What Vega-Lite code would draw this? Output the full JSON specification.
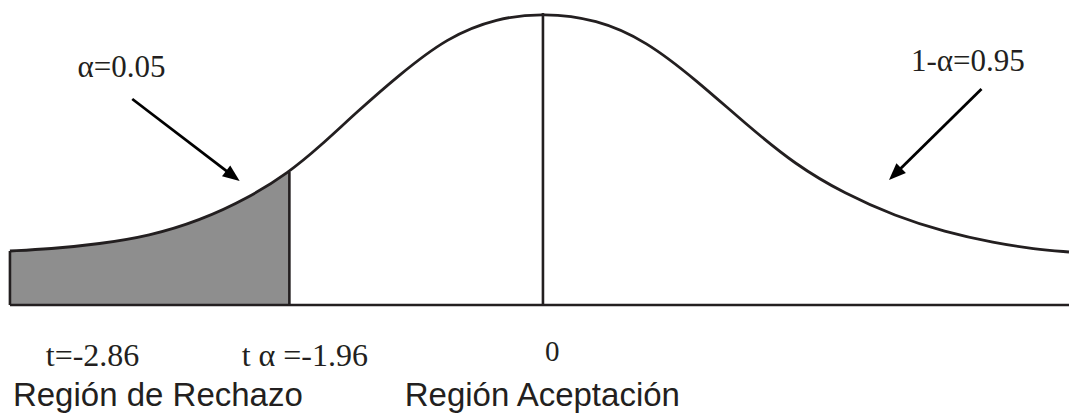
{
  "$schema": "https://vega.github.io/schema/vega-lite/v6.json",
  "width": 1075,
  "height": 417,
  "padding": 0,
  "autosize": {"type": "fit", "contains": "padding"},
  "background": "white",
  "config": {"view": {"stroke": null}},
  "datasets": {
    "curve": [
      {"x": -5.36, "y": 0.0740},
      {"x": -4.96, "y": 0.0767},
      {"x": -4.46, "y": 0.0836},
      {"x": -3.96, "y": 0.0945},
      {"x": -3.46, "y": 0.1151},
      {"x": -2.96, "y": 0.1466},
      {"x": -2.55, "y": 0.1822},
      {"x": -2.26, "y": 0.2151},
      {"x": -1.86, "y": 0.2658},
      {"x": -1.46, "y": 0.3137},
      {"x": -0.96, "y": 0.3671},
      {"x": -0.46, "y": 0.3932},
      {"x": 0.0, "y": 0.4},
      {"x": 0.54, "y": 0.3918},
      {"x": 1.04, "y": 0.3616},
      {"x": 1.54, "y": 0.3082},
      {"x": 2.04, "y": 0.2479},
      {"x": 2.54, "y": 0.1918},
      {"x": 3.04, "y": 0.1521},
      {"x": 3.54, "y": 0.1219},
      {"x": 4.04, "y": 0.1000},
      {"x": 4.54, "y": 0.0849},
      {"x": 4.94, "y": 0.0767},
      {"x": 5.29, "y": 0.0726}
    ],
    "rules": [
      {"x": -5.36, "x2": 5.29, "y": 0, "y2": 0},
      {"x": -5.36, "x2": -5.36, "y": 0, "y2": 0.074},
      {"x": -2.55, "x2": -2.55, "y": 0, "y2": 0.1822},
      {"x": 0, "x2": 0, "y": 0, "y2": 0.4}
    ],
    "arrows": [
      {"x": -4.13, "y": 0.2822, "hx": -3.118, "hy": 0.1768, "angle": 127.2},
      {"x": 4.41, "y": 0.2959, "hx": 3.541, "hy": 0.1793, "angle": 225.6}
    ],
    "alphaLabels": [
      {"x": -4.68, "y": 0.3123, "label": "α=0.05"},
      {"x": 3.7, "y": 0.3205, "label": "1-α=0.95"}
    ],
    "tLabels": [
      {"x": -5.0, "y": -0.0836, "label": "t=-2.86"},
      {"x": -3.03, "y": -0.0836, "label": "t α =-1.96"}
    ],
    "zeroLabel": [
      {"x": 0.02, "y": -0.0767, "label": "0"}
    ],
    "regionLabels": [
      {"x": -5.33, "y": -0.1384, "label": "Región de Rechazo"},
      {"x": -1.39, "y": -0.1384, "label": "Región Aceptación"}
    ]
  },
  "encoding": {
    "x": {"field": "x", "type": "quantitative", "axis": null, "scale": {"domain": [-5.46, 5.29], "nice": false, "zero": false}},
    "y": {"field": "y", "type": "quantitative", "axis": null, "scale": {"domain": [-0.1534, 0.4178], "nice": false, "zero": false}}
  },
  "layer": [
    {
      "data": {"name": "curve"},
      "transform": [{"filter": "datum.x <= -2.55"}],
      "mark": {"type": "area", "interpolate": "basis", "fill": "#8e8e8e", "fillOpacity": 1},
      "encoding": {"y2": {"datum": 0}}
    },
    {
      "data": {"name": "curve"},
      "mark": {"type": "line", "interpolate": "basis", "stroke": "#231f20", "strokeWidth": 2.8},
      "encoding": {}
    },
    {
      "data": {"name": "rules"},
      "mark": {"type": "rule", "stroke": "#231f20", "strokeWidth": 2.6},
      "encoding": {"x2": {"field": "x2"}, "y2": {"field": "y2"}}
    },
    {
      "data": {"name": "arrows"},
      "mark": {"type": "rule", "stroke": "black", "strokeWidth": 2.8},
      "encoding": {"x2": {"field": "hx"}, "y2": {"field": "hy"}}
    },
    {
      "data": {"name": "arrows"},
      "mark": {"type": "point", "shape": "M0,-1L0.8,1L-0.8,1Z", "filled": true, "color": "black", "size": 289, "opacity": 1},
      "encoding": {
        "x": {"field": "hx", "type": "quantitative"},
        "y": {"field": "hy", "type": "quantitative"},
        "angle": {"field": "angle", "type": "quantitative", "scale": null}
      }
    },
    {
      "data": {"name": "alphaLabels"},
      "mark": {"type": "text", "align": "left", "baseline": "alphabetic", "font": "Liberation Serif", "fontSize": 31, "color": "#231f20"},
      "encoding": {"text": {"field": "label"}}
    },
    {
      "data": {"name": "tLabels"},
      "mark": {"type": "text", "align": "left", "baseline": "alphabetic", "font": "Liberation Serif", "fontSize": 32, "color": "#231f20"},
      "encoding": {"text": {"field": "label"}}
    },
    {
      "data": {"name": "zeroLabel"},
      "mark": {"type": "text", "align": "left", "baseline": "alphabetic", "font": "Liberation Serif", "fontSize": 29, "color": "#231f20"},
      "encoding": {"text": {"field": "label"}}
    },
    {
      "data": {"name": "regionLabels"},
      "mark": {"type": "text", "align": "left", "baseline": "alphabetic", "font": "Liberation Sans", "fontSize": 33, "color": "#231f20"},
      "encoding": {"text": {"field": "label"}}
    }
  ]
}
